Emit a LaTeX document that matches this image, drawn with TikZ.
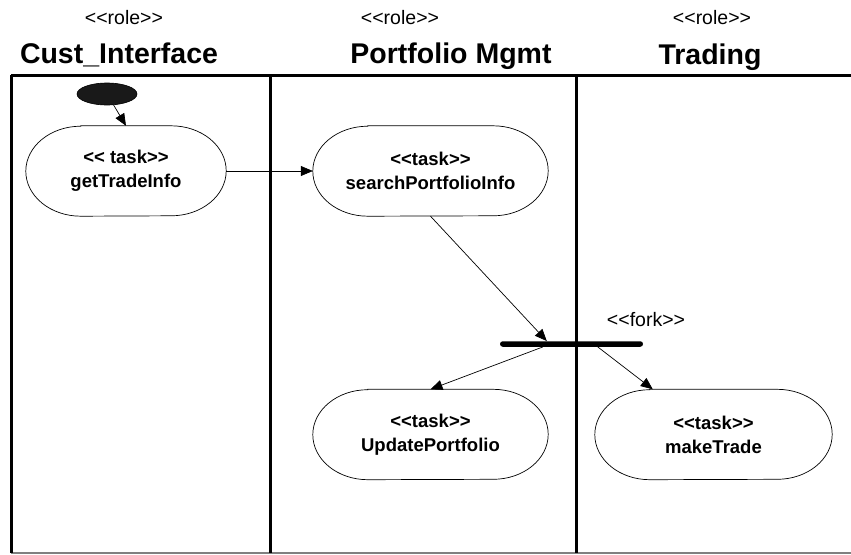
\documentclass[tikz,border=0pt]{standalone}
\usepackage{fontspec}
\setmainfont{Liberation Sans}
\usetikzlibrary{arrows.meta,calc,shapes.geometric}

\tikzset{
  lane/.style={line width=3pt},
  roletag/.style={font=\fontsize{19.5}{21}\selectfont, inner sep=0pt},
  roletitle/.style={font=\bfseries\fontsize{28.5}{30}\selectfont, inner sep=0pt, anchor=base},
  task/.style={rectangle, draw=none, inner sep=0pt, minimum height=90pt, align=center,
    font=\bfseries\fontsize{18.5}{24}\selectfont},
  taskedge/.style={line width=0.7pt},
  flow/.style={line width=0.7pt, -{Triangle[length=12pt,width=10pt]}},
}

% outline of a task: straight top and bottom, elliptic ends
\newcommand{\taskoutline}[1]{%
  \draw[taskedge] ($(#1.north west)+(55,0)$) -- ($(#1.north east)+(-55,0)$)
    arc[start angle=90, end angle=-90, x radius=55pt, y radius=45pt]
    -- ($(#1.south west)+(55,0)$)
    arc[start angle=270, end angle=90, x radius=55pt, y radius=45pt] -- cycle;}

\begin{document}
\begin{tikzpicture}[x=1pt, y=-1pt]
\useasboundingbox (0,0) rectangle (851,554);

% swimlane frame
\coordinate (tl) at (11,75);
\coordinate (tr) at (851,75);
\coordinate (bl) at (11,553);
\coordinate (br) at (851,553);
\coordinate (s1t) at (270.5,75);
\coordinate (s1b) at (270.5,553);
\coordinate (s2t) at (576,75);
\coordinate (s2b) at (576,553);
\draw[gray, line width=1.5pt] (bl) -- (br);
\draw[lane] (tl) -- (tr);
\draw[lane] (tl) -- (bl);
\draw[lane] (s1t) -- (s1b);
\draw[lane] (s2t) -- (s2b);

% lane headings
\node[roletag] (r1) at (124,18) {<{}<role>{}>};
\node[roletag] (r2) at (400,18) {<{}<role>{}>};
\node[roletag] (r3) at (712,18) {<{}<role>{}>};
\node[roletitle] (h1) at (119,63) {Cust\_Interface};
\node[roletitle] (h2) at (451,63) {Portfolio Mgmt};
\node[roletitle] (h3) at (710,64) {Trading};

% initial state
\node[ellipse, draw, fill=black!90, line width=0.6pt, minimum width=60pt, minimum height=22pt, inner sep=0pt]
  (start) at (107,94) {};

% tasks
\node[task, minimum width=200pt] (get) at (126,171) {<{}< task>{}>\\getTradeInfo};
\node[task, minimum width=235pt] (search) at (430.5,171) {<{}<task>{}>\\searchPortfolioInfo};
\node[task, minimum width=235pt] (upd) at (430.5,434.5) {<{}<task>{}>\\UpdatePortfolio};
\node[task, minimum width=237pt] (make) at (713.5,434.5) {<{}<task>{}>\\makeTrade};
\foreach \t in {get,search,upd,make} {\taskoutline{\t}}

% fork bar
\node[fill=black, minimum width=143pt, minimum height=5.5pt, inner sep=0pt, rounded corners=2.7pt]
  (fork) at (571.5,344) {};
\node[roletag] (forklabel) at (646,320) {<{}<fork>{}>};

\coordinate (forkin) at ($(fork.north west)+(47,0)$);
\coordinate (forkoutL) at ($(fork.south west)+(43,0)$);
\coordinate (forkoutR) at ($(fork.south west)+(98,0)$);
\coordinate (makein) at ($(make.north west)+(58,0)$);

% control flow
\draw[flow] (start) -- (get.north);
\draw[flow] (get.east) -- (search.west);
\draw[flow] (search.south) -- (forkin);
\draw[flow] (forkoutL) -- (upd.north);
\draw[flow] (forkoutR) -- (makein);
\end{tikzpicture}
\end{document}
